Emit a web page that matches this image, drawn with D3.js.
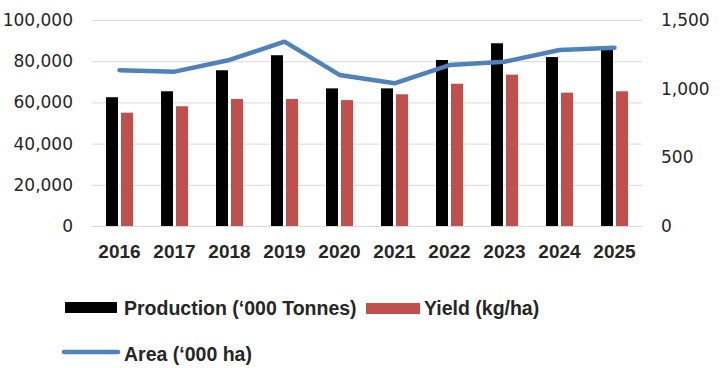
<!DOCTYPE html>
<html><head><meta charset="utf-8">
<script src="https://cdn.jsdelivr.net/npm/d3@7"></script>
<style>
body{margin:0;background:#fff;}
text{fill:#262626;}
</style></head>
<body><svg id="c" width="724" height="368"></svg>
<script>
const years = ["2016","2017","2018","2019","2020","2021","2022","2023","2024","2025"];
const production = [62500,65400,75600,82900,66800,66800,80600,88700,82000,85800];
const yieldKg = [825,872,925,925,917,959,1036,1102,971,981];
const area = [1134,1124,1209,1342,1100,1039,1172,1196,1282,1298];
const leftTicks = [0,20000,40000,60000,80000,100000];
const rightTicks = [0,500,1000,1500];

const svg = d3.select("#c");
const m = {l:92, r:642, t:20, b:226};
const x = d3.scaleBand().domain(years).range([m.l, m.r]);
const yL = d3.scaleLinear().domain([0,100000]).range([m.b, m.t]);
const yR = d3.scaleLinear().domain([0,1500]).range([m.b, m.t]);

// gridlines
svg.append("g").selectAll("line").data(leftTicks).join("line")
  .attr("x1", m.l).attr("x2", m.r)
  .attr("y1", d=>yL(d)+0.5).attr("y2", d=>yL(d)+0.5)
  .attr("stroke", "#d9d9d9").attr("stroke-width", 1);

// left axis
const axL = d3.axisLeft(yL).tickValues(leftTicks).tickFormat(d3.format(",")).tickSize(0).tickPadding(0);
svg.append("g").attr("transform", `translate(73,0)`).call(axL)
  .call(g=>g.select(".domain").remove())
  .selectAll("text").style("font-family","DejaVu Sans").style("font-size","17px").attr("fill","#262626");

// right axis
const axR = d3.axisRight(yR).tickValues(rightTicks).tickFormat(d3.format(",")).tickSize(0).tickPadding(0);
svg.append("g").attr("transform", `translate(661,0)`).call(axR)
  .call(g=>g.select(".domain").remove())
  .selectAll("text").style("font-family","DejaVu Sans").style("font-size","17px").attr("fill","#262626");

// x labels
const axB = d3.axisBottom(x).tickSize(0).tickPadding(0);
svg.append("g").attr("transform", `translate(0,244)`).call(axB)
  .call(g=>g.select(".domain").remove())
  .selectAll("text").style("font-family","Liberation Sans, Arial").style("font-weight","bold").style("font-size","19px").attr("fill","#262626");

const bw = 12, gap = 3;
// production bars
svg.append("g").selectAll("rect").data(years).join("rect")
  .attr("x", (d,i)=>x(d)+x.bandwidth()/2 - gap/2 - bw)
  .attr("width", bw)
  .attr("y", (d,i)=>yL(production[i]))
  .attr("height", (d,i)=>yL(0)-yL(production[i]))
  .attr("fill", "#000");
// yield bars
svg.append("g").selectAll("rect").data(years).join("rect")
  .attr("x", (d,i)=>x(d)+x.bandwidth()/2 + gap/2)
  .attr("width", bw)
  .attr("y", (d,i)=>yR(yieldKg[i]))
  .attr("height", (d,i)=>yR(0)-yR(yieldKg[i]))
  .attr("fill", "#c0504d");

// area line
const line = d3.line().x((d,i)=>x(years[i])+x.bandwidth()/2).y(d=>yR(d));
svg.append("path").datum(area).attr("d", line)
  .attr("fill","none").attr("stroke","#4f81bd").attr("stroke-width",4.5)
  .attr("stroke-linejoin","round").attr("stroke-linecap","round");

// legend
const leg = svg.append("g").style("font-family","Liberation Sans, Arial").style("font-size","19.5px").style("font-weight","bold");
leg.append("rect").attr("x",65).attr("y",302).attr("width",52).attr("height",11).attr("fill","#000");
leg.append("text").attr("x",124).attr("y",315).text("Production (‘000 Tonnes)");
leg.append("rect").attr("x",366).attr("y",303).attr("width",54).attr("height",11).attr("fill","#c0504d");
leg.append("text").attr("x",424).attr("y",315).text("Yield (kg/ha)");
leg.append("line").attr("x1",64).attr("x2",118).attr("y1",352).attr("y2",352)
  .attr("stroke","#4f81bd").attr("stroke-width",4.5).attr("stroke-linecap","round");
leg.append("text").attr("x",124).attr("y",361).text("Area (‘000 ha)");
</script></body></html>
